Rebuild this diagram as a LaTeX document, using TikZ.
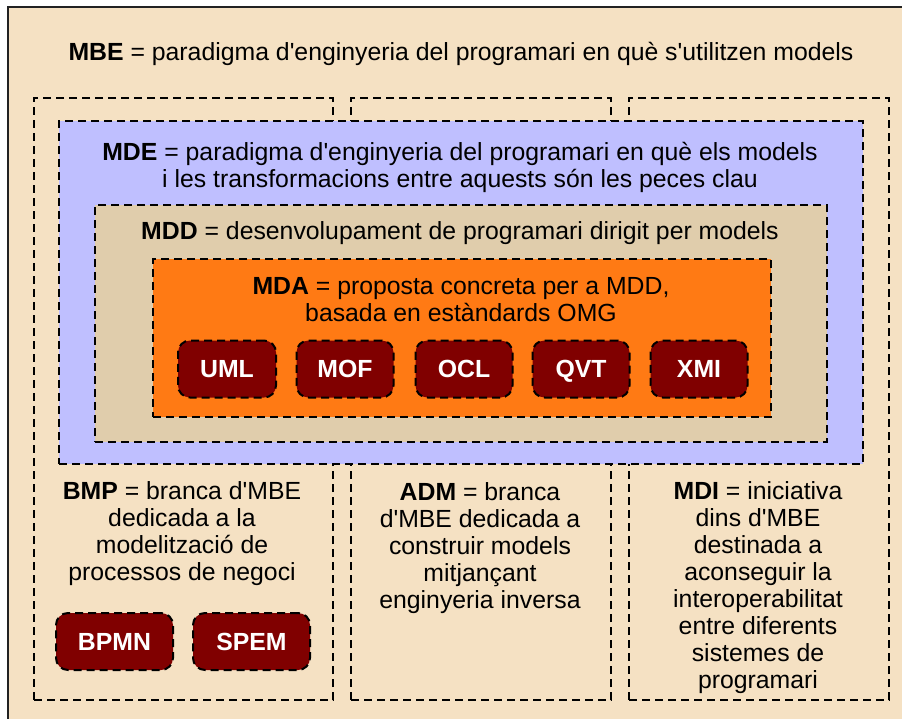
\documentclass[tikz,border=0pt]{standalone}
\usepackage{fontspec}
\setmainfont{Liberation Sans}[Ligatures=TeXOff]
\definecolor{bgc}{HTML}{F5E1C3}
\definecolor{mdec}{HTML}{BFBFFF}
\definecolor{mddc}{HTML}{E0CDAC}
\definecolor{mdac}{HTML}{FF7A14}
\definecolor{badgec}{HTML}{800000}
\definecolor{framec}{HTML}{222222}
\begin{document}
\begin{tikzpicture}[x=1pt,y=-1pt,
  dashbox/.style={draw=black, line width=2pt, dash pattern=on 8pt off 5pt, inner sep=0pt, anchor=north west},
  badge/.style={draw=black, line width=2pt, dash pattern=on 8pt off 5pt, fill=badgec, rounded corners=12pt, minimum height=57pt, inner sep=0pt, text height=17.8pt, text depth=0pt, text=white, font=\bfseries\fontsize{24.8}{27}\selectfont},
  lbl/.style={align=center, inner sep=0pt, font=\fontsize{24.8}{27}\selectfont}]
\useasboundingbox (0,0) rectangle (902,718);
\fill[white] (0,0) rectangle (902,718);
\draw[draw=framec, line width=2pt, fill=bgc] (8,7) rectangle (912,728);
% columns
\node[dashbox, minimum width=299pt, minimum height=602pt] (colA) at (33,97) {};
\node[dashbox, minimum width=260pt, minimum height=602pt] (colB) at (350,97) {};
\node[dashbox, minimum width=260pt, minimum height=602pt] (colC) at (628,97) {};
% nested boxes
\node[dashbox, fill=mdec, minimum width=804pt, minimum height=343pt] (mde) at (58,120) {};
\node[dashbox, fill=mddc, minimum width=732pt, minimum height=237pt] (mdd) at (94,204) {};
\node[dashbox, fill=mdac, minimum width=618pt, minimum height=158pt] (mda) at (152,258) {};
% texts
\node[lbl] (tmbe) at (461,54) {\textbf{MBE} = paradigma d'enginyeria del programari en què s'utilitzen models};
\node[lbl] (tmde) at (460,167) {\textbf{MDE} = paradigma d'enginyeria del programari en què els models\\i les transformacions entre aquests són les peces clau};
\node[lbl] (tmdd) at (460,233) {\textbf{MDD} = desenvolupament de programari dirigit per models};
\node[lbl] (tmda) at (461,300) {\textbf{MDA} = proposta concreta per a MDD,\\basada en estàndards OMG};
\node[lbl] (tbmp) at (182,534) {\textbf{BMP} = branca d'MBE\\dedicada a la\\modelització de\\processos de negoci};
\node[lbl] (tadm) at (480,548) {\textbf{ADM} = branca\\d'MBE dedicada a\\construir models\\mitjançant\\enginyeria inversa};
\node[lbl] (tmdi) at (758,588) {\textbf{MDI} = iniciativa\\dins d'MBE\\destinada a\\aconseguir la\\interoperabilitat\\entre diferents\\sistemes de\\programari};
% badges
\node[badge, minimum width=98pt] (uml) at (227,369) {UML};
\node[badge, minimum width=97pt] (mof) at (345,369) {MOF};
\node[badge, minimum width=97pt] (ocl) at (464,369) {OCL};
\node[badge, minimum width=97pt] (qvt) at (581,369) {QVT};
\node[badge, minimum width=97pt] (xmi) at (699,369) {XMI};
\node[badge, minimum width=117pt] (bpmn) at (114.5,641.5) {BPMN};
\node[badge, minimum width=117pt] (spem) at (251.5,641.5) {SPEM};
\end{tikzpicture}
\end{document}
